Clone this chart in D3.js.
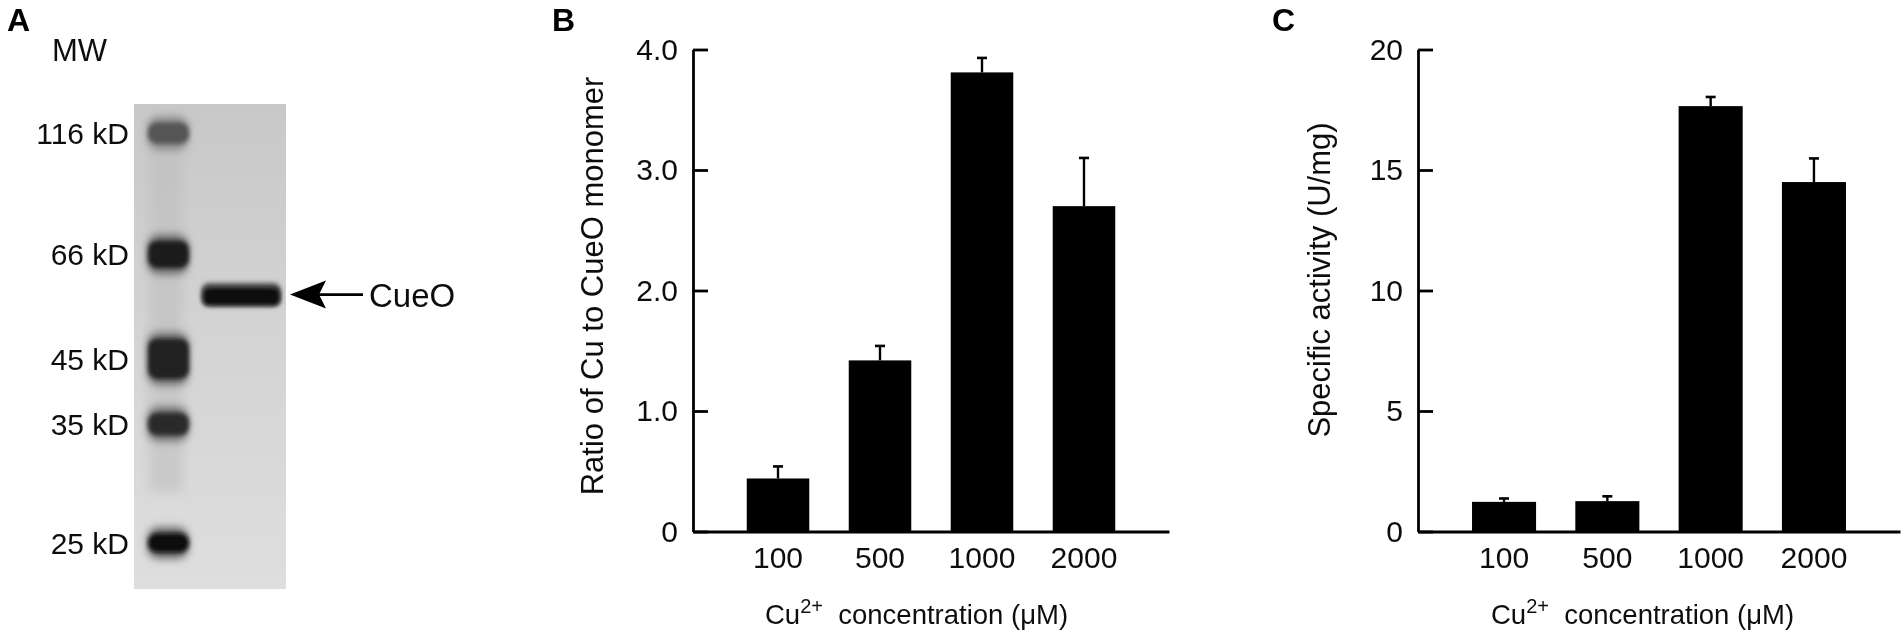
<!DOCTYPE html>
<html>
<head>
<meta charset="utf-8">
<script src="https://cdn.jsdelivr.net/npm/d3@7"></script>
<style>
  html, body { margin: 0; padding: 0; background: #fff; }
  svg { display: block; }
  text { font-family: "Liberation Sans", Arial, sans-serif; fill: #111; }
</style>
</head>
<body>
<div id="chart"></div>
<script>
const concentrations = ["100", "500", "1000", "2000"];

const ratioValues = [0.44, 1.42, 3.81, 2.70];
const ratioTops = [0.54, 1.54, 3.93, 3.10];
const ratioTicks = [0, 1, 2, 3, 4];

const activityValues = [1.23, 1.26, 17.65, 14.5];
const activityTops = [1.37, 1.46, 18.03, 15.48];
const activityTicks = [0, 5, 10, 15, 20];

// gel ladder, migration read as a fraction of the gel height
const markerLabels = ["116 kD", "66 kD", "45 kD", "35 kD", "25 kD"];
const markerRf = [0.06, 0.31, 0.525, 0.66, 0.905];
const markerLoad = [0.2, 0.45, 1, 0.25, 0.12];
const markerDark = [0.62, 0.92, 0.88, 0.84, 0.97];
const cueoRf = 0.393;

const width = 1902;
const height = 639;

const svg = d3.select("#chart")
  .append("svg")
  .attr("width", width)
  .attr("height", height)
  .attr("viewBox", [0, 0, width, height]);

const defs = svg.append("defs");
[["soft", 0.55], ["band", 2], ["fuzz", 4.5], ["smear", 5]].forEach(([id, sd]) => {
  defs.append("filter")
    .attr("id", id)
    .attr("x", "-30%").attr("y", "-60%")
    .attr("width", "160%").attr("height", "220%")
    .append("feGaussianBlur")
    .attr("stdDeviation", sd);
});

const gelShade = defs.append("linearGradient")
  .attr("id", "gelShade")
  .attr("x1", 0).attr("x2", 0).attr("y1", 0).attr("y2", 1);
gelShade.append("stop").attr("offset", "0%").attr("stop-color", "#c8c8c8");
gelShade.append("stop").attr("offset", "45%").attr("stop-color", "#d3d3d3");
gelShade.append("stop").attr("offset", "100%").attr("stop-color", "#dedede");

const root = svg.append("g").attr("filter", "url(#soft)");

const panelLetter = (letter, x) => {
  root.append("text")
    .attr("x", x)
    .attr("y", 31)
    .attr("font-size", 32)
    .attr("font-weight", "bold")
    .style("fill", "#000")
    .text(letter);
};

const drawGel = () => {
  const g = root.append("g");
  const left = 134, right = 286, top = 104, bottom = 589;

  const yGel = d3.scaleLinear().domain([0, 1]).range([top, bottom]);
  const thickness = d3.scaleLinear().domain([0, 1]).range([16, 40]);
  const grey = d3.scaleLinear().domain([0, 1]).range(["#d0d0d0", "#0a0a0a"]);

  g.append("rect")
    .attr("x", left).attr("y", top)
    .attr("width", right - left).attr("height", bottom - top)
    .attr("fill", "url(#gelShade)");

  // faint smear down the marker lane
  g.append("rect")
    .attr("x", 149).attr("y", yGel(0.08))
    .attr("width", 34).attr("height", yGel(0.8) - yGel(0.08))
    .attr("fill", "#bdbdbd")
    .attr("opacity", 0.55)
    .attr("filter", "url(#smear)");

  // haze that trails each band
  g.selectAll("rect.haze")
    .data(markerRf)
    .join("rect")
    .attr("class", "haze")
    .attr("x", 148)
    .attr("width", 40)
    .attr("y", (d, i) => yGel(d) - thickness(markerLoad[i]) / 2 - 6)
    .attr("height", (d, i) => thickness(markerLoad[i]) + 12)
    .attr("rx", 10)
    .attr("fill", (d, i) => grey(markerDark[i] * 0.6))
    .attr("filter", "url(#fuzz)");

  g.selectAll("rect.marker")
    .data(markerRf)
    .join("rect")
    .attr("class", "marker")
    .attr("x", 148)
    .attr("width", 41)
    .attr("y", (d, i) => yGel(d) - thickness(markerLoad[i]) / 2)
    .attr("height", (d, i) => thickness(markerLoad[i]))
    .attr("rx", 9)
    .attr("fill", (d, i) => grey(markerDark[i]))
    .attr("filter", "url(#band)");

  g.append("rect")
    .attr("x", 201).attr("width", 80)
    .attr("y", yGel(cueoRf) - 12).attr("height", 24)
    .attr("rx", 8)
    .attr("fill", grey(0.55))
    .attr("filter", "url(#band)");

  g.append("rect")
    .attr("x", 203).attr("width", 77)
    .attr("y", yGel(cueoRf) - 7).attr("height", 18)
    .attr("rx", 6)
    .attr("fill", grey(0.97))
    .attr("filter", "url(#band)");

  g.selectAll("text.marker")
    .data(markerLabels)
    .join("text")
    .attr("class", "marker")
    .attr("x", 129)
    .attr("y", (d, i) => yGel(markerRf[i]) + 11)
    .attr("text-anchor", "end")
    .attr("font-size", 30)
    .text(d => d);

  g.append("text")
    .attr("x", 52).attr("y", 61)
    .attr("font-size", 31)
    .text("MW");

  // arrow pointing at the CueO band
  const yArrow = yGel(cueoRf);
  g.append("line")
    .attr("x1", 315).attr("x2", 363)
    .attr("y1", yArrow).attr("y2", yArrow)
    .attr("stroke", "#000").attr("stroke-width", 2.6);
  g.append("path")
    .attr("d", `M290,${yArrow} L326,${yArrow - 14} L319,${yArrow} L326,${yArrow + 14} Z`)
    .attr("fill", "#000");

  g.append("text")
    .attr("x", 369).attr("y", yArrow + 12)
    .attr("font-size", 33)
    .text("CueO");
};

const drawBars = (opts) => {
  const { values, tops, ticks, format, x0, x1, yTitle, yTitleX, yTitleY, xTitleX, inner, outer } = opts;
  const axisTop = 49.5, axisBottom = 531.5;

  const x = d3.scaleBand()
    .domain(concentrations)
    .range([x0, x1])
    .paddingInner(inner)
    .paddingOuter(outer);

  const y = d3.scaleLinear()
    .domain([ticks[0], ticks[ticks.length - 1]])
    .range([axisBottom, axisTop]);

  const g = root.append("g");

  g.selectAll("rect.bar")
    .data(concentrations)
    .join("rect")
    .attr("class", "bar")
    .attr("x", d => x(d))
    .attr("width", x.bandwidth())
    .attr("y", (d, i) => y(values[i]))
    .attr("height", (d, i) => y(0) - y(values[i]))
    .attr("fill", "#000");

  const mid = d => x(d) + x.bandwidth() / 2;

  g.selectAll("line.err")
    .data(concentrations)
    .join("line")
    .attr("class", "err")
    .attr("x1", mid).attr("x2", mid)
    .attr("y1", (d, i) => y(values[i]))
    .attr("y2", (d, i) => y(tops[i]))
    .attr("stroke", "#000")
    .attr("stroke-width", 2.4);

  g.selectAll("line.cap")
    .data(concentrations)
    .join("line")
    .attr("class", "cap")
    .attr("x1", d => mid(d) - 5).attr("x2", d => mid(d) + 5)
    .attr("y1", (d, i) => y(tops[i]))
    .attr("y2", (d, i) => y(tops[i]))
    .attr("stroke", "#000")
    .attr("stroke-width", 2.6);

  const yAxis = d3.axisLeft(y)
    .tickValues(ticks)
    .tickFormat(format)
    .tickSizeInner(-15)
    .tickSizeOuter(0)
    .tickPadding(15);

  const xAxis = d3.axisBottom(x)
    .tickSize(0)
    .tickPadding(15);

  const yG = g.append("g")
    .attr("transform", `translate(${x0}, 0)`)
    .call(yAxis);

  const xG = g.append("g")
    .attr("transform", `translate(0, ${axisBottom})`)
    .call(xAxis);

  [yG, xG].forEach(a => {
    a.attr("font-family", null);
    a.selectAll("path, line").attr("stroke", "#000").attr("stroke-width", 2.8);
    a.selectAll("text").attr("font-size", 30).style("fill", "#111");
  });

  g.append("text")
    .attr("transform", `translate(${yTitleX}, ${yTitleY}) rotate(-90)`)
    .attr("text-anchor", "middle")
    .attr("font-size", 31)
    .text(yTitle);

  const xTitle = g.append("text")
    .attr("x", xTitleX)
    .attr("y", 624)
    .attr("font-size", 27.5)
    .attr("xml:space", "preserve")
    .style("white-space", "pre");
  xTitle.append("tspan").text("Cu");
  xTitle.append("tspan").attr("dy", -11).attr("font-size", 20).text("2+");
  xTitle.append("tspan").attr("dy", 11).text("  concentration (μM)");
};

panelLetter("A", 7);
drawGel();

panelLetter("B", 552);
drawBars({
  values: ratioValues,
  tops: ratioTops,
  ticks: ratioTicks,
  format: d => d === 0 ? "0" : d3.format(".1f")(d),
  x0: 693, x1: 1169,
  inner: 0.387, outer: 0.527,
  yTitle: "Ratio of Cu to CueO monomer",
  yTitleX: 603, yTitleY: 286,
  xTitleX: 765
});

panelLetter("C", 1272);
drawBars({
  values: activityValues,
  tops: activityTops,
  ticks: activityTicks,
  format: d3.format("d"),
  x0: 1418, x1: 1900,
  inner: 0.38, outer: 0.523,
  yTitle: "Specific activity (U/mg)",
  yTitleX: 1330, yTitleY: 280,
  xTitleX: 1491
});
</script>
</body>
</html>
